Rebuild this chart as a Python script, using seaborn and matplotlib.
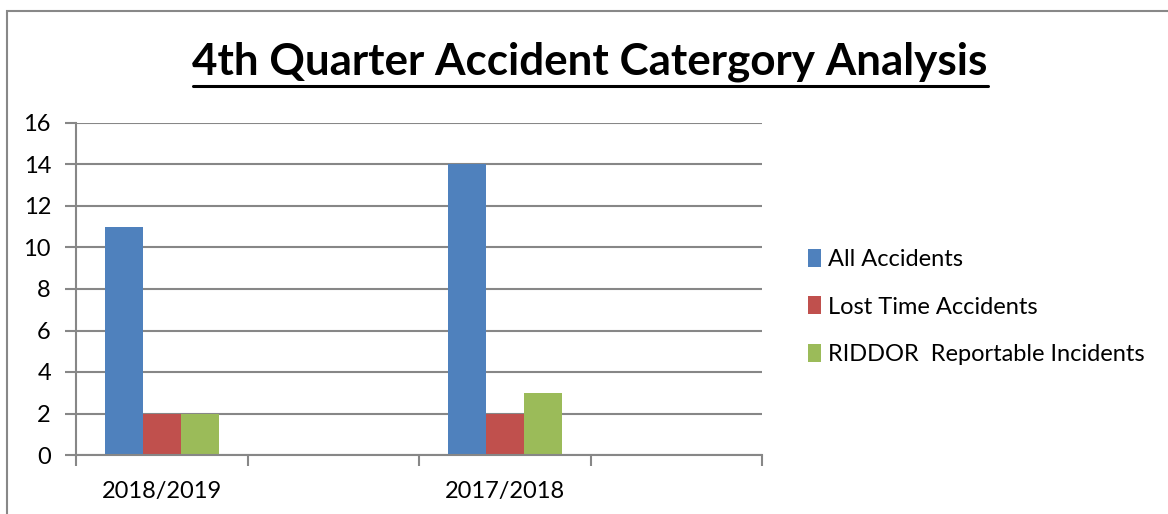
import seaborn as sns
import pandas as pd
import numpy as np
import matplotlib.pyplot as plt
from matplotlib.patches import Rectangle

# Data
periods = ["2018/2019", "2017/2018"]
all_accidents = [11, 14]
lost_time = [2, 2]
riddor = [2, 3]
series_names = ["All Accidents", "Lost Time Accidents", "RIDDOR  Reportable Incidents"]
# Excel left two empty category slots
slot_order = ["2018/2019", "gap1", "2017/2018", "gap2"]
slot_labels = ["2018/2019", "", "2017/2018", ""]

rows = []
for i, p in enumerate(periods):
    rows.append([p, series_names[0], all_accidents[i]])
    rows.append([p, series_names[1], lost_time[i]])
    rows.append([p, series_names[2], riddor[i]])
df = pd.DataFrame(rows, columns=["period", "series", "count"])

colors = ["#4F81BD", "#C0504D", "#9BBB59"]
grid_col = "#878787"

sns.set_theme(style="white")
plt.rcParams['font.family'] = ['Lato', 'DejaVu Sans']
plt.rcParams['text.color'] = 'black'
plt.rcParams['xtick.labelcolor'] = 'black'
plt.rcParams['ytick.labelcolor'] = 'black'

fig = plt.figure(figsize=(11.68, 5.14), dpi=100)
ax = fig.add_axes([76/1168, 1-455/514, (762-76)/1168, (455-123)/514])

sns.barplot(data=df, x="period", y="count", hue="series", order=slot_order,
            hue_order=series_names, palette=colors, width=0.665,
            saturation=1, ax=ax, edgecolor="none", linewidth=0)

ax.set_xlim(-0.5, 3.5)
ax.set_ylim(0, 16)
ax.set_yticks(np.arange(0, 17, 2))
ax.yaxis.grid(True, color=grid_col, linewidth=1.5)
ax.set_axisbelow(True)
ax.set_xlabel("")
ax.set_ylabel("")

# category boundaries get tick marks, labels sit in the middle
ax.set_xticks(np.arange(-0.5, 4, 1))
ax.set_xticklabels([])
ax.set_xticks(range(4), minor=True)
ax.set_xticklabels(slot_labels, minor=True)
ax.tick_params(axis="x", which="major", length=8, width=1.5, color=grid_col, direction="out", bottom=True)
ax.tick_params(axis="x", which="minor", length=0, pad=19, labelsize=17, labelcolor="black")
ax.tick_params(axis="y", length=8, width=1.5, color=grid_col, direction="out", left=True,
               labelsize=17, pad=10, labelcolor="black")

for s in ["top", "right"]:
    ax.spines[s].set_visible(False)
for s in ["left", "bottom"]:
    ax.spines[s].set_color(grid_col)
    ax.spines[s].set_linewidth(1.5)

leg = ax.legend(loc="center left", bbox_to_anchor=(787/1168, 1-307/514),
                bbox_transform=fig.transFigure, frameon=False, fontsize=17,
                handlelength=0.55, handleheight=0.8, handletextpad=0.3, labelspacing=1.1)
for t in leg.get_texts():
    t.set_color("black")

fig.text(590/1168, 1-62/514, "4th Quarter Accident Catergory Analysis", ha="center", va="center",
         fontsize=31.7, fontweight="bold", color="black")
# underline under the title
fig.add_artist(plt.Line2D([193/1168, 988/1168], [1-86/514, 1-86/514], color="black", linewidth=2.2))

# outer chart frame
fig.add_artist(Rectangle((7/1168, -0.1), 1.2, 1-11/514+0.1, transform=fig.transFigure,
                         fill=False, edgecolor="#888888", linewidth=1.5))

fig.savefig("out.png", dpi=100)
